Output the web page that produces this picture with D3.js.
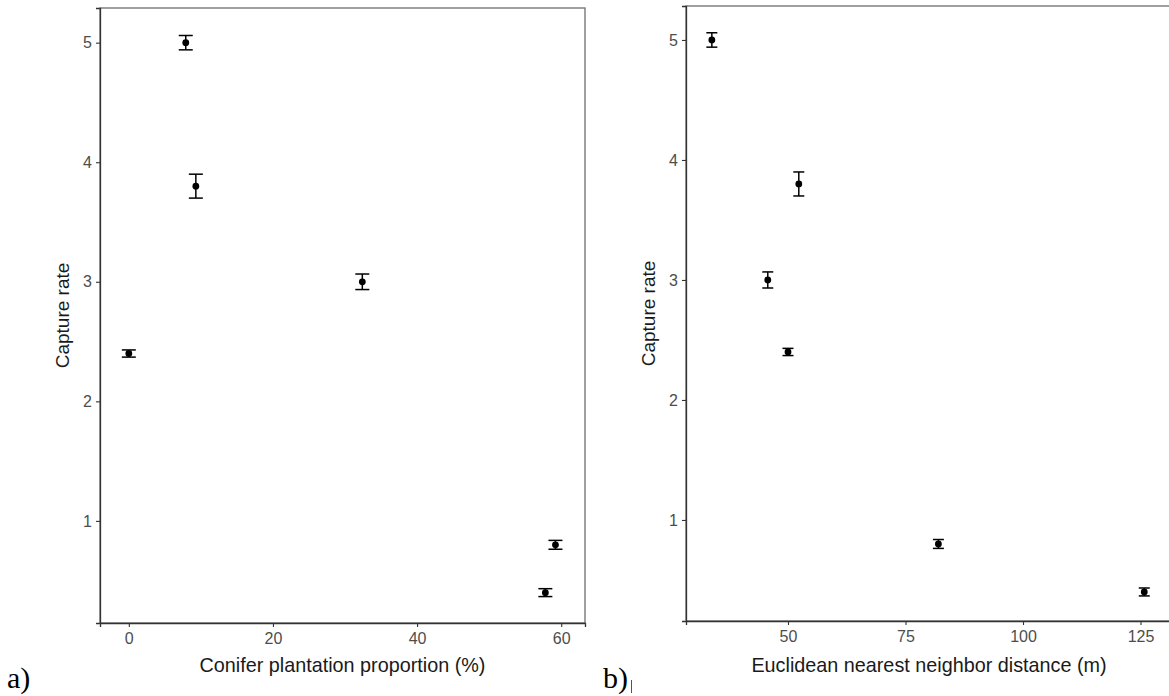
<!DOCTYPE html>
<html>
<head>
<meta charset="utf-8">
<script src="https://cdn.jsdelivr.net/npm/d3@7"></script>
<style>
  body { margin: 0; background: #fff; }
  svg { display: block; }
  .tick text { font-family: "Liberation Sans", Arial, sans-serif; fill: #4d4d4d; }
</style>
</head>
<body>
<svg id="chart" width="1169" height="696"></svg>
<script>
// panel a) conifer plantation proportion
var conifer_x = [0, 7.9, 9.3, 32.4, 59.2, 57.8];
var conifer_rate = [2.4, 5.0, 3.8, 3.0, 0.8, 0.4];
var conifer_err = [0.03, 0.06, 0.1, 0.065, 0.037, 0.033];
var conifer_ticks = [0, 20, 40, 60];

// panel b) euclidean nearest neighbor distance
var enn_x = [33.8, 52.3, 45.7, 50.0, 82.0, 125.8];
var enn_rate = [5.0, 3.8, 3.0, 2.4, 0.8, 0.4];
var enn_err = [0.06, 0.1, 0.067, 0.03, 0.037, 0.033];
var enn_ticks = [50, 75, 100, 125];

var rate_ticks = [1, 2, 3, 4, 5];

var svg = d3.select("#chart");

function draw_panel(opt){
    var x = d3.scaleLinear().domain(opt.xdom).range([opt.left, opt.right]);
    var y = d3.scaleLinear().domain(opt.ydom).range([opt.bottom, opt.top]);
    var g = svg.append("g");

    var data = opt.xs.map((d, i) => ({x: d, y: opt.ys[i], e: opt.errs[i]}));

    // panel border (top / right lighter)
    g.append("rect")
        .attr("x", opt.left).attr("y", opt.top)
        .attr("width", opt.right - opt.left)
        .attr("height", opt.bottom - opt.top)
        .attr("fill", "none")
        .attr("stroke", "#6e6e6e")
        .attr("stroke-width", 1.3);

    var xAxis = d3.axisBottom(x).tickValues(opt.xticks).tickFormat(d3.format("d")).tickSize(4).tickPadding(6);
    var yAxis = d3.axisLeft(y).tickValues(rate_ticks).tickFormat(d3.format("d")).tickSize(4).tickPadding(4);

    var gx = g.append("g").attr("transform", "translate(0," + opt.bottom + ")").call(xAxis);
    var gy = g.append("g").attr("transform", "translate(" + opt.left + ",0)").call(yAxis);

    [gx, gy].forEach(a => {
        a.select(".domain").attr("stroke", "#333").attr("stroke-width", 1.3);
        a.selectAll(".tick line").attr("stroke", "#333").attr("stroke-width", 1.1);
        a.selectAll(".tick text").style("font-size", "16px");
    });

    // error bars
    var bars = g.selectAll(".err").data(data).enter().append("g").attr("class", "err")
        .attr("stroke", "#000").attr("stroke-width", 1.5);
    bars.append("line")
        .attr("x1", d => x(d.x)).attr("x2", d => x(d.x))
        .attr("y1", d => y(d.y - d.e)).attr("y2", d => y(d.y + d.e));
    bars.append("line")
        .attr("x1", d => x(d.x) - opt.cap).attr("x2", d => x(d.x) + opt.cap)
        .attr("y1", d => y(d.y + d.e)).attr("y2", d => y(d.y + d.e));
    bars.append("line")
        .attr("x1", d => x(d.x) - opt.cap).attr("x2", d => x(d.x) + opt.cap)
        .attr("y1", d => y(d.y - d.e)).attr("y2", d => y(d.y - d.e));

    g.selectAll(".pt").data(data).enter().append("circle")
        .attr("cx", d => x(d.x)).attr("cy", d => y(d.y))
        .attr("r", 3.4).attr("fill", "#000");

    // axis titles
    g.append("text")
        .attr("x", (opt.left + opt.right) / 2).attr("y", 672)
        .attr("text-anchor", "middle")
        .style("font-family", "Liberation Sans, Arial, sans-serif")
        .style("font-size", "19.8px").style("fill", "#1a1a1a")
        .text(opt.xlabel);

    g.append("text")
        .attr("transform", "translate(" + opt.ytitle_x + "," + (opt.top + opt.bottom) / 2 + ") rotate(-90)")
        .attr("text-anchor", "middle")
        .style("font-family", "Liberation Sans, Arial, sans-serif")
        .style("font-size", "19px").style("fill", "#1a1a1a")
        .text("Capture rate");

    svg.append("text")
        .attr("x", opt.tag_x).attr("y", 688)
        .style("font-family", "Liberation Serif, Times New Roman, serif")
        .style("font-size", "30px").style("fill", "#000")
        .text(opt.tag);
}

draw_panel({
    xs: conifer_x, ys: conifer_rate, errs: conifer_err, xticks: conifer_ticks,
    xdom: [-4.0, 63.3], ydom: [0.146, 5.29],
    left: 100, right: 585, top: 8, bottom: 623,
    cap: 7, ytitle_x: 69, tag_x: 7, tag: "a)",
    xlabel: "Conifer plantation proportion (%)"
});

draw_panel({
    xs: enn_x, ys: enn_rate, errs: enn_err, xticks: enn_ticks,
    xdom: [28.3, 131.7], ydom: [0.158, 5.283],
    left: 686, right: 1172, top: 6, bottom: 621,
    cap: 5.5, ytitle_x: 655, tag_x: 603, tag: "b)",
    xlabel: "Euclidean nearest neighbor distance (m)"
});

// small cursor mark after "b)"
svg.append("line")
    .attr("x1", 631.5).attr("x2", 631.5).attr("y1", 680).attr("y2", 693)
    .attr("stroke", "#555").attr("stroke-width", 1);
</script>
</body>
</html>
